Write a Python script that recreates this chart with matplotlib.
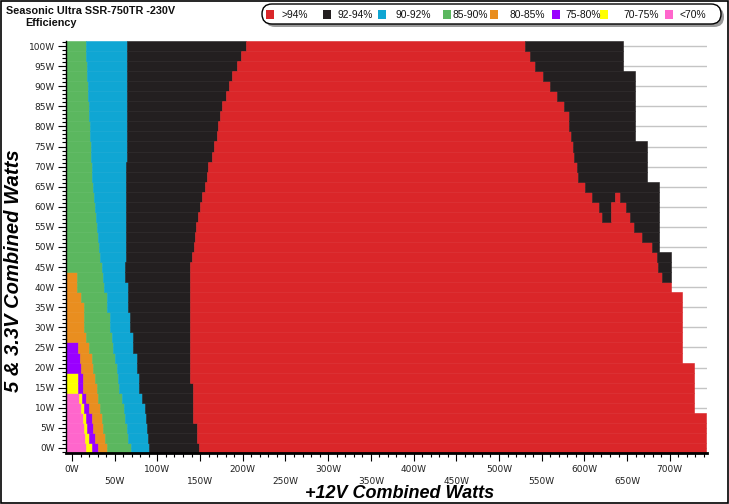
import numpy as np
import matplotlib
matplotlib.use("Agg")
import matplotlib.pyplot as plt
from matplotlib.patches import FancyBboxPatch, Rectangle
from matplotlib.ticker import MultipleLocator, FuncFormatter

# ---------------- data (W) ----------------
# rows of the 5V & 3.3V combined load, bottom to top
y_rows = [0, 2.5, 5, 7.5, 10, 12.5, 15, 17.5, 20, 22.5, 25, 27.5, 30, 32.5, 35, 37.5, 40,
          42.5, 45, 47.5, 50, 52.5, 55, 57.5, 60, 62.5, 65, 67.5, 70, 72.5, 75, 77.5, 80,
          82.5, 85, 87.5, 90, 92.5, 95, 97.5, 100]
nan = np.nan
# right-hand edge (+12V W) of each efficiency band in every row; nan = band absent
pink_end = [16.4, 15.2, 14.1, 12.9, 10.5, 8.2] + [nan] * 35
yellow_end = [23.4, 19.9, 17.6, 16.4, 14.1, 11.7, 7.0, 7.0] + [nan] * 33
purple_end = [30.4, 26.9, 24.6, 23.4, 19.9, 16.4, 12.9, 12.9, 10.5, 9.4, 7.0] + [nan] * 30
orange_end = [41.0, 38.6, 36.3, 35.1, 32.8, 30.4, 29.3, 26.9, 24.6, 23.4, 19.9, 16.4,
              14.1, 14.1, 14.1, 10.5, 5.9, 5.9] + [nan] * 23
green_end = [69.1, 65.6, 64.4, 62.1, 60.9, 58.5, 55.0, 53.9, 52.7, 50.4, 48.0, 46.8,
             44.5, 44.5, 41.0, 41.0, 37.5, 36.3, 35.1, 32.8, 31.6, 30.4, 29.3, 28.1,
             26.9, 25.8, 24.6, 23.4, 23.4, 22.2, 22.2, 21.1, 21.1, 19.9, 19.9, 18.7,
             18.7, 17.6, 17.6, 16.4, 16.4]
blue_end = [90.2, 89.0, 87.8, 86.7, 85.5, 82.0, 78.5, 78.5, 76.1, 76.1, 71.4, 71.4,
            67.9, 67.9, 65.6, 65.6, 65.6, 62.1, 62.1, 63.2, 63.2, 63.2, 63.2, 63.2,
            63.2, 63.2, 63.2, 63.2, 63.2, 64.4, 64.4, 64.4, 64.4, 64.4, 64.4, 64.4,
            64.4, 64.4, 64.4, 64.4, 64.4]
black_end = [148.7, 146.4, 146.4, 141.7, 141.7, 141.7, 141.7, 138.2, 138.2, 138.2, 138.2,
             138.2, 138.2, 138.2, 138.2, 138.2, 138.2, 138.2, 138.2, 140.5, 142.9, 144.0,
             145.2, 147.5, 149.9, 152.2, 155.7, 158.1, 159.3, 163.9, 166.3, 169.8, 171.0,
             173.3, 175.6, 180.3, 183.8, 187.4, 193.2, 197.9, 203.7]
red_end = [742.4, 742.4, 742.4, 742.4, 728.3, 728.3, 728.3, 728.3, 728.3, 714.3, 714.3,
           714.3, 714.3, 714.3, 714.3, 714.3, 701.4, 690.9, 686.2, 685.0, 679.2, 667.4,
           658.1, 620.6, 617.1, 608.9, 600.7, 592.5, 591.3, 587.8, 586.7, 584.3, 582.0,
           582.0, 576.1, 567.9, 559.7, 551.5, 542.2, 536.3, 530.4]
notch_black_end = [nan] * 23 + [631.1, 631.1, 635.8] + [nan] * 15
red2_end = [nan] * 23 + [653.4, 648.7, 641.7] + [nan] * 15
black2_end = [nan] * 17 + [701.4, 701.4, 701.4, 687.4, 687.4, 687.4, 687.4, 687.4,
                           687.4, 687.4, 673.3, 673.3, 673.3, 673.3, 659.2, 659.2,
                           659.2, 659.2, 659.2, 659.2, 659.2, 645.2, 645.2, 645.2]

legend_labels = [">94%", "92-94%", "90-92%", "85-90%", "80-85%", "75-80%", "70-75%", "<70%"]

C_RED = "#DA2629"
C_BLACK = "#231F20"
C_BLUE = "#0FA6D3"
C_GREEN = "#5BB75F"
C_ORANGE = "#E98E1F"
C_PURPLE = "#9A00FF"
C_YELLOW = "#FFFF00"
C_PINK = "#FF66CC"
legend_colors = [C_RED, C_BLACK, C_BLUE, C_GREEN, C_ORANGE, C_PURPLE, C_YELLOW, C_PINK]

XMIN, XMAX = -7.0, 743.6
YMIN, YMAX = -1.25, 101.25
ROW_H = 2.5

W, H = 729, 504
fig = plt.figure(figsize=(W / 100, H / 100), dpi=100)
fig.patch.set_facecolor("white")
ax = fig.add_axes([66 / W, 1 - 453 / H, (707 - 66) / W, (453 - 41) / H])
ax.set_xlim(XMIN, XMAX)
ax.set_ylim(YMIN, YMAX)

ys = np.array(y_rows, dtype=float)
prev = np.full(len(ys), XMIN)
segments = [(pink_end, C_PINK), (yellow_end, C_YELLOW), (purple_end, C_PURPLE),
            (orange_end, C_ORANGE), (green_end, C_GREEN), (blue_end, C_BLUE),
            (black_end, C_BLACK), (red_end, C_RED), (notch_black_end, C_BLACK),
            (red2_end, C_RED), (black2_end, C_BLACK)]
for arr, col in segments:
    a = np.array(arr, dtype=float)
    end = np.where(np.isnan(a), prev, a)
    w = end - prev
    m = w > 0
    ax.barh(ys[m], w[m], left=prev[m], height=ROW_H, color=col, edgecolor=col,
            linewidth=0.4, zorder=2)
    prev = end

# grid
ax.yaxis.set_major_locator(MultipleLocator(5))
ax.yaxis.set_minor_locator(MultipleLocator(1))
ax.xaxis.set_major_locator(MultipleLocator(50))
ax.xaxis.set_minor_locator(MultipleLocator(10))
ax.grid(axis="y", which="major", color="#C4C4C4", linewidth=1.0, zorder=0)
ax.set_axisbelow(True)

ax.yaxis.set_major_formatter(FuncFormatter(lambda v, p: f"{int(round(v))}W"))
def xfmt(v, p):
    v = int(round(v))
    return f"{v}W" if v % 100 == 0 else f"\n{v}W"
ax.xaxis.set_major_formatter(FuncFormatter(xfmt))

for s in ["top", "right"]:
    ax.spines[s].set_visible(False)
ax.spines["bottom"].set_linewidth(2.0)
ax.spines["left"].set_linewidth(1.0)
ax.tick_params(axis="both", which="major", direction="out", length=6, width=0.8,
               labelsize=6.5, colors="black")
ax.tick_params(axis="both", which="minor", direction="out", length=3, width=0.8)
ax.tick_params(axis="x", which="major", pad=3)
ax.tick_params(axis="y", which="major", pad=2)
for lab in ax.get_xticklabels():
    lab.set_linespacing(1.3)
    lab.set_color("#222222")
for lab in ax.get_yticklabels():
    lab.set_color("#222222")

# overlay in pixel coordinates
ov = fig.add_axes([0, 0, 1, 1], zorder=5)
ov.set_xlim(0, W)
ov.set_ylim(H, 0)
ov.axis("off")
ov.patch.set_alpha(0)

# outer border
ov.add_patch(Rectangle((0.5, 0.5), W - 1.5, H - 1.5, fill=False, edgecolor="black",
                       linewidth=1.2))

ov.text(6, 11, "Seasonic Ultra SSR-750TR -230V", fontsize=7.8, fontweight="bold",
        family="Liberation Sans", va="center", ha="left", color="#111111")
ov.text(25, 23, "Efficiency", fontsize=7.8, fontweight="bold",
        family="Liberation Sans", va="center", ha="left", color="#111111")

# legend
ov.add_patch(FancyBboxPatch((265, 7), 459, 20, boxstyle="round,pad=0,rounding_size=10",
                            facecolor="#9A9A9A", edgecolor="none"))
ov.add_patch(FancyBboxPatch((262, 4), 459, 20, boxstyle="round,pad=0,rounding_size=10",
                            facecolor="white", edgecolor="black", linewidth=1.0))
sq_x = [266, 323, 378, 443, 490, 552, 600, 665]
tx_x = [282, 338, 396, 453, 510, 565, 623, 680]
for lab, col, sx, tx in zip(legend_labels, legend_colors, sq_x, tx_x):
    ov.add_patch(Rectangle((sx, 10), 8.5, 8.5, facecolor=col, edgecolor="none"))
    ov.text(tx, 14.5, lab, fontsize=7.4, family="Liberation Sans", va="center",
            ha="left", color="#111111")

ov.text(400, 493, "+12V Combined Watts", fontsize=13, fontweight="bold",
        fontstyle="italic", family="Liberation Sans", ha="center", va="center")
ov.text(14, 271, "5 & 3.3V Combined Watts", fontsize=14.5, fontweight="bold",
        fontstyle="italic", family="Liberation Sans", ha="center", va="center",
        rotation=90)

fig.savefig("out.png", dpi=100)
